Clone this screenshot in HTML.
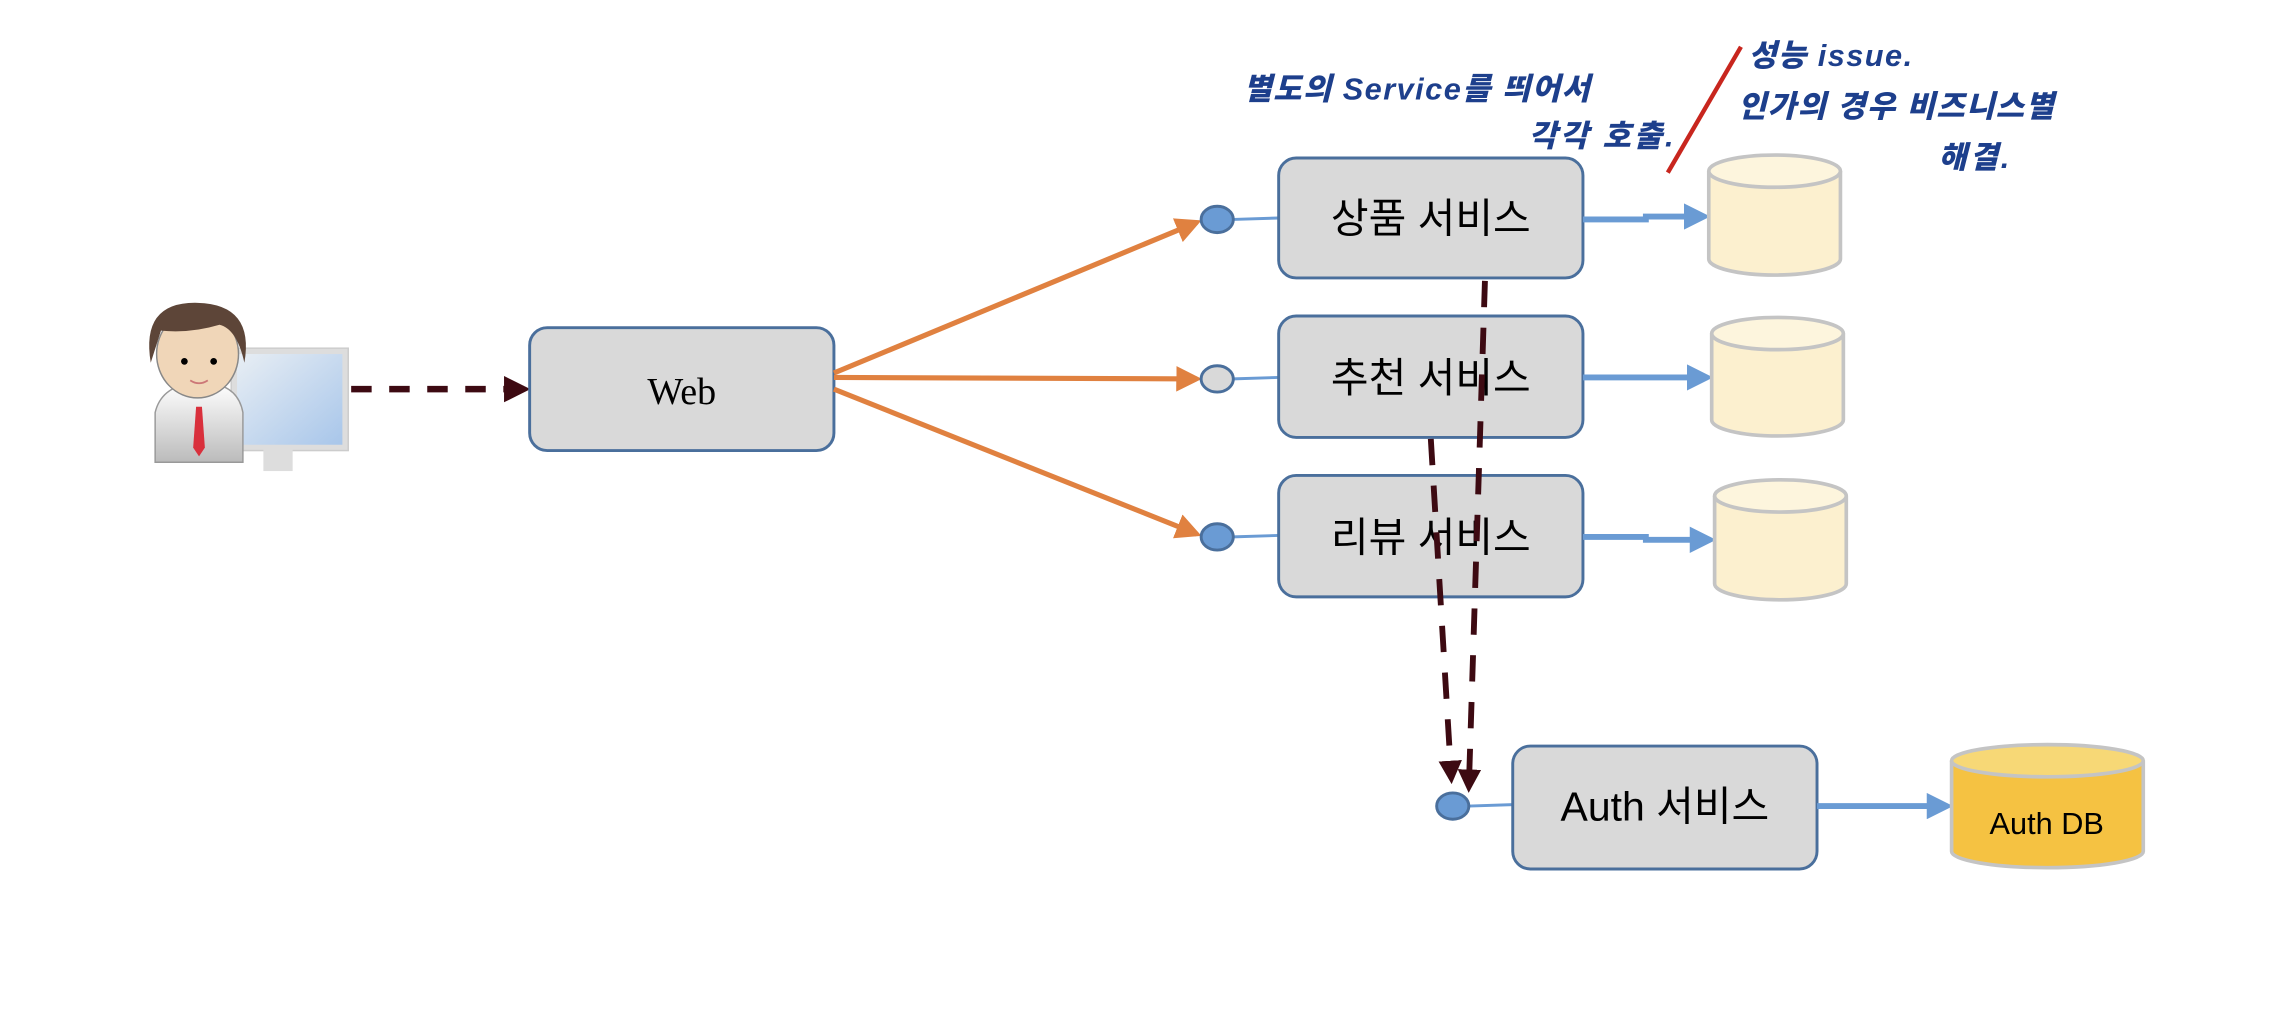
<!DOCTYPE html>
<html><head><meta charset="utf-8"><style>
html,body{margin:0;padding:0;background:#fff;width:2294px;height:1034px;overflow:hidden}
svg{display:block}
.lbl{font-family:"Liberation Sans","Noto Sans CJK KR",sans-serif;font-size:28px;fill:#000}
.hw{font-family:"Liberation Sans","Noto Sans CJK KR",sans-serif;font-size:21px;fill:#1d3f8c;font-weight:900;font-style:italic}
</style></head><body>
<svg width="2294" height="1034" viewBox="0 0 1568 706.8" xmlns="http://www.w3.org/2000/svg">
<defs>
<marker id="ao" markerWidth="5" markerHeight="5" refX="4" refY="2.5" orient="auto" markerUnits="strokeWidth"><path d="M0,0 L5,2.5 L0,5 z" fill="#e08140"/></marker>
<marker id="ab" markerWidth="4.5" markerHeight="4.5" refX="3.5" refY="2.25" orient="auto" markerUnits="strokeWidth"><path d="M0,0 L4.5,2.25 L0,4.5 z" fill="#6a9bd4"/></marker>
<marker id="ad" markerWidth="4" markerHeight="4" refX="3" refY="2" orient="auto" markerUnits="strokeWidth"><path d="M0,0 L4,2 L0,4 z" fill="#3d0a12"/></marker>
<linearGradient id="scr" x1="0" y1="0" x2="1" y2="1"><stop offset="0" stop-color="#e8eef4"/><stop offset="1" stop-color="#a8c6ea"/></linearGradient>
<linearGradient id="shirt" x1="0" y1="0" x2="0" y2="1"><stop offset="0" stop-color="#fff"/><stop offset="1" stop-color="#bbb"/></linearGradient>
</defs>

<rect x="158" y="238" width="80" height="70" fill="#ddd" stroke="#ccc"/>
<rect x="162" y="242" width="72" height="62" fill="url(#scr)"/>
<rect x="180" y="306" width="20" height="16" fill="#ddd"/>
<path d="M106,316 L106,282 Q110,265 130,262 L145,262 Q163,265 166,282 L166,316 z" fill="url(#shirt)" stroke="#999"/>
<path d="M134,278 L138,278 L140,306 L136,312 L132,306 z" fill="#d9303c"/>
<ellipse cx="135" cy="242" rx="28" ry="30" fill="#f0d6b8" stroke="#888"/>
<path d="M103,248 Q96,206 135,207 Q174,208 167,248 Q162,225 150,222 Q130,228 110,226 z" fill="#5d4538"/>
<circle cx="126" cy="247" r="2.3" fill="#000"/><circle cx="146" cy="247" r="2.3" fill="#000"/>
<path d="M130,260 Q136,264 142,260" stroke="#c77" fill="none" stroke-width="1.2"/>

<line x1="240" y1="266" x2="358" y2="266" stroke="#3d0a12" stroke-width="4.5" stroke-dasharray="14,12" marker-end="url(#ad)"/>

<rect x="362" y="224" width="208" height="84" rx="12" fill="#d9d9d9" stroke="#4a6f9c" stroke-width="2"/>
<text x="466" y="276" text-anchor="middle" font-family="Liberation Serif,serif" font-size="26" fill="#000">Web</text>

<g stroke="#e08140" stroke-width="3.5" fill="none">
<line x1="570" y1="255" x2="818" y2="152" marker-end="url(#ao)"/>
<line x1="570" y1="258" x2="818" y2="259" marker-end="url(#ao)"/>
<line x1="570" y1="266" x2="818" y2="365" marker-end="url(#ao)"/>
</g>

<g stroke="#6a9bd4" stroke-width="2">
<line x1="843" y1="150" x2="874" y2="149"/><line x1="843" y1="259" x2="874" y2="258"/><line x1="843" y1="367" x2="874" y2="366"/><line x1="1004" y1="551" x2="1034" y2="550"/>
</g>
<ellipse cx="832" cy="150" rx="11" ry="9" fill="#6a9bd4" stroke="#4a6f9c" stroke-width="2"/>
<ellipse cx="832" cy="259" rx="11" ry="9" fill="#d9d9d9" stroke="#4a6f9c" stroke-width="2"/>
<ellipse cx="832" cy="367" rx="11" ry="9" fill="#6a9bd4" stroke="#4a6f9c" stroke-width="2"/>
<ellipse cx="993" cy="551" rx="11" ry="9" fill="#6a9bd4" stroke="#4a6f9c" stroke-width="2"/>

<g fill="#d9d9d9" stroke="#4a6f9c" stroke-width="2">
<rect x="874" y="108" width="208" height="82" rx="12"/>
<rect x="874" y="216" width="208" height="83" rx="12"/>
<rect x="874" y="325" width="208" height="83" rx="12"/>
<rect x="1034" y="510" width="208" height="84" rx="12"/>
</g>
<text class="lbl" x="978" y="159" text-anchor="middle">상품 서비스</text>
<text class="lbl" x="978" y="268" text-anchor="middle">추천 서비스</text>
<text class="lbl" x="978" y="377" text-anchor="middle">리뷰 서비스</text>
<text class="lbl" x="1138" y="561" text-anchor="middle">Auth 서비스</text>

<g stroke="#6a9bd4" stroke-width="4" fill="none">
<polyline points="1082,150 1125,150 1125,148 1165,148" marker-end="url(#ab)"/>
<line x1="1082" y1="258" x2="1167" y2="258" marker-end="url(#ab)"/>
<polyline points="1082,367 1125,367 1125,369 1169,369" marker-end="url(#ab)"/>
<line x1="1242" y1="551" x2="1331" y2="551" marker-end="url(#ab)"/>
</g>

<g stroke="#c4c4c4" stroke-width="2.5">
<path d="M1168,117 L1168,177 A45,11 0 0 0 1258,177 L1258,117" fill="#fcf0cf"/><ellipse cx="1213" cy="117" rx="45" ry="11" fill="#fdf5dd"/>
<path d="M1170,228 L1170,287 A45,11 0 0 0 1260,287 L1260,228" fill="#fcf0cf"/><ellipse cx="1215" cy="228" rx="45" ry="11" fill="#fdf5dd"/>
<path d="M1172,339 L1172,399 A45,11 0 0 0 1262,399 L1262,339" fill="#fcf0cf"/><ellipse cx="1217" cy="339" rx="45" ry="11" fill="#fdf5dd"/>
<path d="M1334,520 L1334,582 A65,11 0 0 0 1465,582 L1465,520" fill="#f5c242"/><ellipse cx="1399.5" cy="520" rx="65.5" ry="11" fill="#f7d876"/>
</g>
<text x="1399" y="570" text-anchor="middle" font-family="Liberation Sans,sans-serif" font-size="21" fill="#000">Auth DB</text>

<g stroke="#3d0a12" stroke-width="4" fill="none" stroke-dasharray="18,14">
<line x1="1015" y1="192" x2="1004" y2="538" marker-end="url(#ad)"/>
<line x1="978" y1="300" x2="992" y2="532" marker-end="url(#ad)"/>
</g>

<line x1="1190" y1="32" x2="1140" y2="118" stroke="#c8261e" stroke-width="3"/>
<text class="hw" x="850" y="68" font-size="23" letter-spacing="1">별도의  Service를   띄어서</text>
<text class="hw" x="1045" y="100" letter-spacing="2">각각  호출.</text>
<text class="hw" x="1195" y="45" letter-spacing="1">성능  issue.</text>
<text class="hw" x="1188" y="80" letter-spacing="1">인가의  경우  비즈니스별</text>
<text class="hw" x="1325" y="115" letter-spacing="2">해결.</text>
</svg>
</body></html>
